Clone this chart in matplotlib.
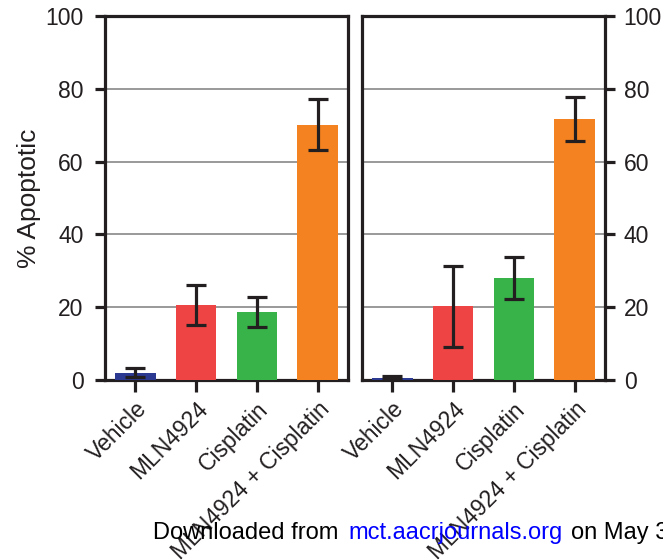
import numpy as np
import matplotlib
matplotlib.use('Agg')
import matplotlib.pyplot as plt

plt.rcParams['font.family'] = ['Liberation Sans', 'DejaVu Sans']

groups = ['Vehicle', 'MLN4924', 'Cisplatin', 'MLN4924 + Cisplatin']
colors = ['#2B3990', '#EF4444', '#37B34A', '#F58220']

# left panel
left_mean = [2.0, 20.6, 18.6, 70.1]
left_err = [1.3, 5.6, 4.1, 7.0]
# right panel
right_mean = [0.6, 20.3, 28.0, 71.7]
right_err = [0.4, 11.1, 5.7, 6.1]

yticks = [0, 20, 40, 60, 80, 100]

fig = plt.figure(figsize=(6.63, 5.6), dpi=100)
ax1 = fig.add_axes([0.1584, 0.3214, 0.3665, 0.65])
ax2 = fig.add_axes([0.546, 0.3214, 0.3665, 0.65])

dark = '#231F20'
fs = 16.5

for ax, mean, err in [(ax1, left_mean, left_err), (ax2, right_mean, right_err)]:
    x = np.arange(len(groups))
    ax.bar(x, mean, width=0.67, color=colors, zorder=3)
    ax.errorbar(x, mean, yerr=err, fmt='none', ecolor=dark, elinewidth=2.3,
                capsize=7, capthick=2.3, zorder=4)
    ax.set_xlim(-0.5, 3.5)
    ax.set_ylim(0, 100)
    ax.set_yticks(yticks)
    ax.yaxis.grid(True, color='#888888', linewidth=1.2, zorder=0)
    ax.set_axisbelow(True)
    for s in ax.spines.values():
        s.set_linewidth(2.3)
        s.set_color(dark)
    ax.set_xticks(x)
    ax.set_xticklabels(groups, rotation=45, ha='right', rotation_mode='anchor',
                       fontsize=fs)
    ax.tick_params(axis='both', direction='out', length=7.5, width=2.3,
                   color=dark, labelsize=fs, labelcolor='#231F20')
    ax.tick_params(axis='x', length=8.5, pad=4)

ax1.tick_params(axis='y', pad=8)
ax2.yaxis.tick_right()
ax2.tick_params(axis='y', pad=6)

ax1.set_ylabel('% Apoptotic', fontsize=19, color='#231F20')
ax1.yaxis.set_label_coords(-0.265, 0.5)

# footer line, pieces placed one after another
yb = 1 - 539 / 560
fs_foot = 17
t1 = fig.text(153 / 663, yb, 'Downloaded from', fontsize=fs_foot,
              color='black', va='baseline')
t2 = fig.text(0, yb, 'mct.aacrjournals.org', fontsize=fs_foot, color='#0000FF',
              va='baseline')
t3 = fig.text(0, yb, 'on May 31', fontsize=fs_foot, color='black', va='baseline')
fig.canvas.draw()
r = fig.canvas.get_renderer()
bb1 = t1.get_window_extent(r)
t2.set_position((348 / 663, yb))
t2_w = t2.get_window_extent(r).width
t3.set_position(((348 + t2_w + 9) / 663, yb))

fig.savefig('out.png', dpi=100)
